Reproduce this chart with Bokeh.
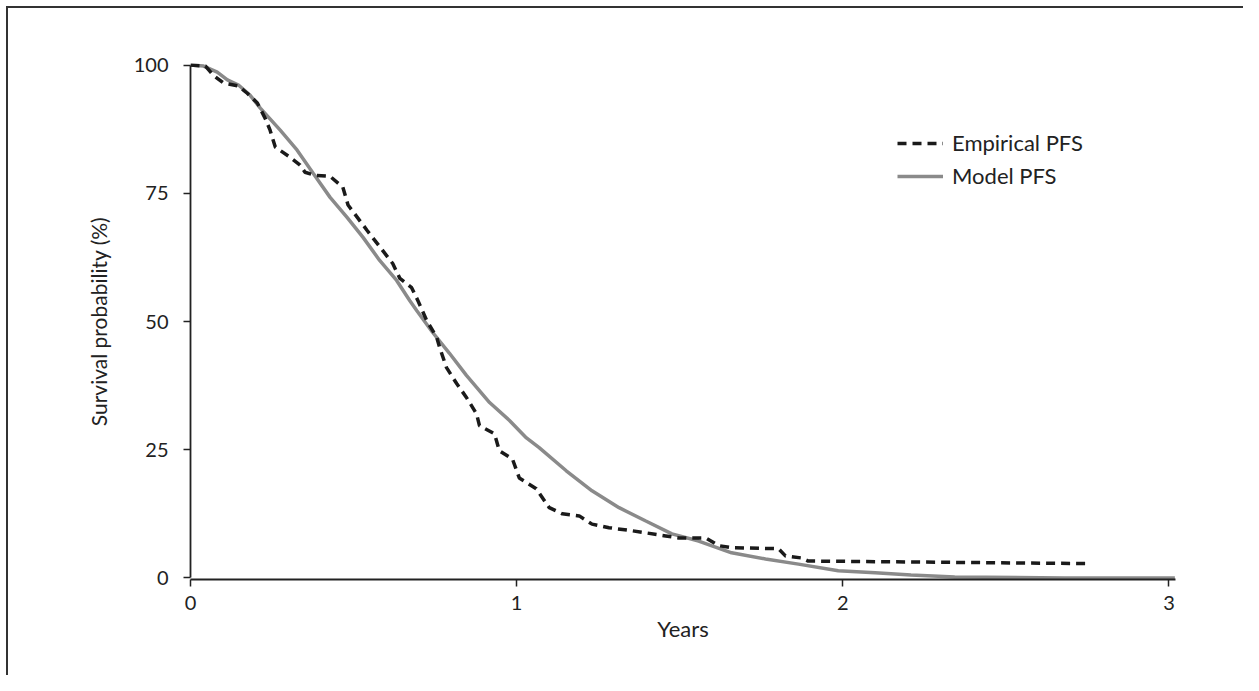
from bokeh.plotting import figure
from bokeh.models import Range1d, Legend, LegendItem
from bokeh.embed import file_html
from bokeh.resources import INLINE

# ---- data ----
emp_years = [0.0, 0.046, 0.070, 0.101, 0.147, 0.174, 0.205, 0.229, 0.244, 0.260,
             0.306, 0.336, 0.351, 0.382, 0.428, 0.467, 0.483, 0.541, 0.620, 0.642,
             0.678, 0.697, 0.724, 0.755, 0.764, 0.785, 0.816, 0.846, 0.877, 0.886,
             0.932, 0.947, 0.987, 1.008, 1.060, 1.100, 1.140, 1.192, 1.231, 1.283,
             1.354, 1.457, 1.497, 1.580, 1.619, 1.659, 1.803, 1.824, 1.873, 1.894,
             2.756]
emp_surv = [100.0, 99.8, 98.0, 96.5, 95.9, 94.5, 92.6, 89.6, 87.3, 84.0,
            82.0, 80.5, 79.1, 78.5, 78.3, 76.2, 72.7, 67.8, 61.3, 58.4,
            56.6, 54.1, 50.2, 46.9, 44.9, 41.0, 37.9, 35.2, 32.0, 29.7,
            28.1, 24.8, 23.2, 19.5, 17.4, 13.7, 12.5, 12.1, 10.5, 9.8,
            9.2, 8.2, 7.8, 7.8, 6.3, 5.9, 5.7, 4.3, 3.9, 3.3,
            2.8]

model_years = [0.0, 0.040, 0.082, 0.113, 0.147, 0.183, 0.214, 0.275, 0.327, 0.376,
               0.428, 0.480, 0.529, 0.580, 0.632, 0.672, 0.694, 0.742, 0.794, 0.846,
               0.917, 0.978, 1.030, 1.069, 1.152, 1.231, 1.314, 1.396, 1.476, 1.558,
               1.659, 1.763, 1.864, 1.986, 2.099, 2.209, 2.343, 2.679, 3.018]
model_surv = [100.0, 99.8, 98.6, 97.1, 96.1, 94.1, 91.6, 87.3, 83.4, 78.9,
              74.2, 70.3, 66.4, 61.9, 58.0, 54.1, 52.1, 47.9, 43.8, 39.5,
              34.2, 30.7, 27.3, 25.4, 20.9, 17.0, 13.7, 11.1, 8.6, 7.2,
              4.9, 3.7, 2.7, 1.4, 1.0, 0.6, 0.2, 0.0, 0.0]

x_ticks = [0, 1, 2, 3]
y_ticks = [0, 25, 50, 75, 100]
x_label = "Years"
y_label = "Survival probability (%)"
series_names = ["Empirical PFS", "Model PFS"]

FONT = "Lato"
TXT = "#222222"

p = figure(width=1243, height=675, output_backend="svg", toolbar_location=None,
           x_range=Range1d(0, 3.02), y_range=Range1d(-0.3, 100.3),
           min_border_left=190, min_border_right=68, min_border_top=63,
           min_border_bottom=96)
# outer frame (top and left edges visible in the reference)
p.border_fill_color = None
p.background_fill_color = "white"
p.styles = {"background": "linear-gradient(#333333,#333333) 6px 6px / calc(100% - 6px) 2px no-repeat, "
                          "linear-gradient(#333333,#333333) 6px 6px / 2px calc(100% - 6px) no-repeat, white"}
p.outline_line_color = None
p.xgrid.visible = False
p.ygrid.visible = False

for ax in (p.xaxis[0], p.yaxis[0]):
    ax.axis_line_color = TXT
    ax.axis_line_width = 1.8
    ax.major_tick_line_color = TXT
    ax.major_tick_line_width = 1.5
    ax.major_tick_in = 0
    ax.major_tick_out = 7
    ax.minor_tick_line_color = None
    ax.major_label_text_font = FONT
    ax.major_label_text_font_size = "20px"
    ax.major_label_text_color = TXT
    ax.axis_label_text_font = FONT
    ax.axis_label_text_font_size = "22px"
    ax.axis_label_text_font_style = "normal"
    ax.axis_label_text_color = TXT

p.yaxis.axis_label_text_font_size = "21px"
p.xaxis.ticker = x_ticks
p.yaxis.ticker = y_ticks
p.xaxis.bounds = (0, 3.02)
p.yaxis.bounds = (0, 100)
p.xaxis.axis_label = x_label
p.yaxis.axis_label = y_label
p.xaxis.major_label_standoff = 9
p.yaxis.major_label_standoff = 15
p.xaxis.axis_label_standoff = 2
p.yaxis.axis_label_standoff = 20

r_model = p.line(model_years, model_surv, line_color="#8a8a8a", line_width=3.5)
r_emp = p.line(emp_years, emp_surv, line_color="#1a1a1a", line_width=3.5,
               line_dash="9 6")

legend = Legend(items=[LegendItem(label=series_names[0], renderers=[r_emp]),
                       LegendItem(label=series_names[1], renderers=[r_model])],
                location=(707, 390), padding=0, margin=0, spacing=6,
                glyph_width=46, glyph_height=24, label_height=24,
                label_standoff=9, border_line_alpha=0, background_fill_alpha=0,
                label_text_font=FONT, label_text_font_size="22px",
                label_text_color=TXT)
p.add_layout(legend, "center")

open("out.html", "w").write(file_html(p, INLINE))
